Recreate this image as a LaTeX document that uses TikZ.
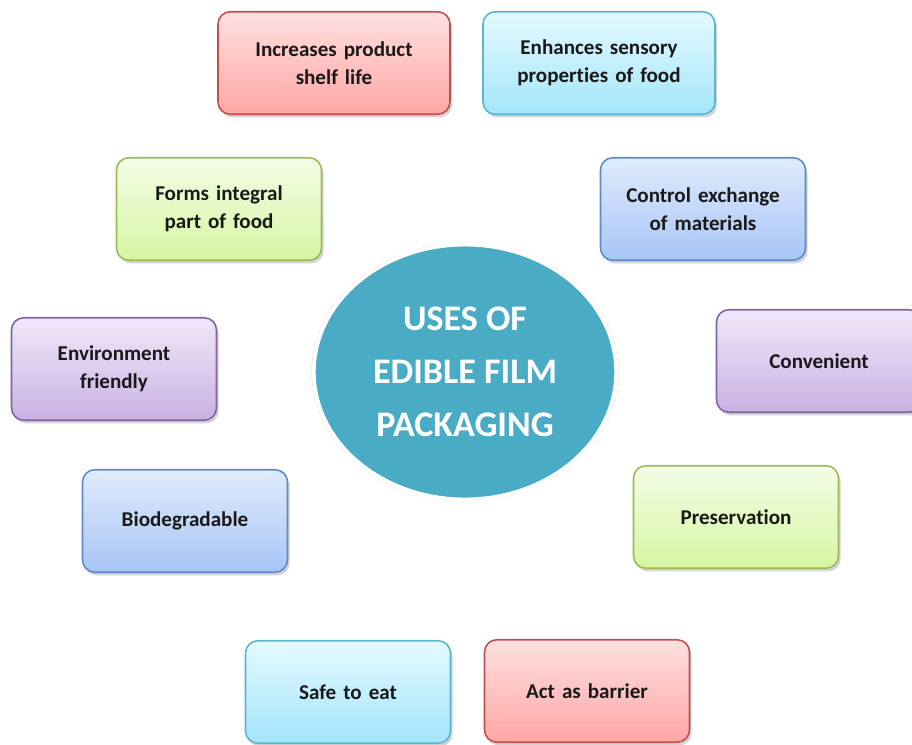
\documentclass[tikz,border=0pt]{standalone}
\usepackage{fontspec}
\setmainfont{Carlito}[Ligatures=NoCommon]
\usetikzlibrary{shadows,shapes.geometric}

\definecolor{redline}{HTML}{C0504D}
\definecolor{redtop}{HTML}{FFE0E0}
\definecolor{redbot}{HTML}{FFA6A6}
\definecolor{cyanline}{HTML}{5BB5CE}
\definecolor{cyantop}{HTML}{E4F9FF}
\definecolor{cyanbot}{HTML}{A4E6FB}
\definecolor{greenline}{HTML}{9BBB59}
\definecolor{greentop}{HTML}{F4FCE6}
\definecolor{greenbot}{HTML}{D5F6A2}
\definecolor{blueline}{HTML}{5B8BC8}
\definecolor{bluetop}{HTML}{E0EBFD}
\definecolor{bluebot}{HTML}{A7C5F5}
\definecolor{purpleline}{HTML}{8064A2}
\definecolor{purpletop}{HTML}{F0E8F8}
\definecolor{purplebot}{HTML}{C9B1E3}
\definecolor{hubfill}{HTML}{4AABC5}

\begin{document}
\begin{tikzpicture}[x=0.02cm, y=-0.02cm,
                    usebox/.style = {draw, rounded corners=7pt, line width=0.9pt, minimum width=4.1cm, minimum height=2.05cm,
                                     text width=3.7cm, align=center, text=black!90, font=\fontsize{12}{16}\selectfont\bfseries,
                                     drop shadow={opacity=0.35, shadow xshift=1.2pt, shadow yshift=-1.8pt}},
                    widebox/.style = {minimum width=4.64cm},
                    redbox/.style = {usebox, draw=redline, top color=redtop, bottom color=redbot},
                    cyanbox/.style = {usebox, draw=cyanline, top color=cyantop, bottom color=cyanbot},
                    greenbox/.style = {usebox, draw=greenline, top color=greentop, bottom color=greenbot},
                    bluebox/.style = {usebox, draw=blueline, top color=bluetop, bottom color=bluebot},
                    purplebox/.style = {usebox, draw=purpleline, top color=purpletop, bottom color=purplebot},
                    hub/.style = {ellipse, draw=white, line width=2.2pt, fill=hubfill, inner sep=0pt,
                                  minimum width=6.05cm, minimum height=5.1cm, text=white, align=center,
                                  font=\fontsize{20.5}{30}\selectfont\bfseries,
                                  drop shadow={opacity=0.3, shadow xshift=0pt, shadow yshift=0pt, shadow scale=1.015}}]
        \useasboundingbox (0,0) rectangle (912,744);
        % centre
        \node[hub] (0) at (465,372) {USES OF\\EDIBLE FILM\\PACKAGING};
        % uses around it
        \node[redbox, widebox] (1) at (334,63) {Increases product\\shelf life};
        \node[cyanbox, widebox] (2) at (599,63) {Enhances sensory\\properties of food};
        \node[bluebox] (3) at (703,209) {Control exchange\\of materials};
        \node[purplebox] (4) at (819,361) {Convenient};
        \node[greenbox] (5) at (736,517) {Preservation};
        \node[redbox] (6) at (587,691) {Act as barrier};
        \node[cyanbox] (7) at (348,692) {Safe to eat};
        \node[bluebox] (8) at (185,521) {Biodegradable};
        \node[purplebox] (9) at (114,369) {Environment\\friendly};
        \node[greenbox] (10) at (219,209) {Forms integral\\part of food};
    \end{tikzpicture}
\end{document}
